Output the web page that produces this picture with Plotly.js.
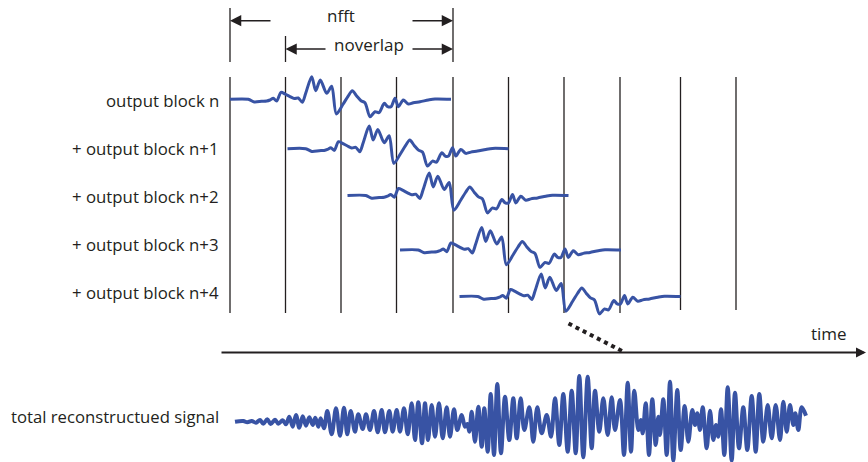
<!DOCTYPE html>
<html><head><meta charset="utf-8">
<script src="https://cdn.plot.ly/plotly-3.0.1.min.js"></script>
<style>html,body{margin:0;padding:0;background:#fff}</style>
</head><body><div id="chart" style="width:868px;height:462px"></div>
<script>
// ---- data (time axis units; vertical axis runs top->bottom) ----
const boundaries     = [230, 285.5, 341, 396.5, 453, 508.5, 564, 620, 680.5, 736];
const boundaryBottom = [313, 313, 313, 313, 313, 313, 313, 313, 310, 310];
const rowTop = 77;

const blockLabels = ['output block n', '+ output block n+1', '+ output block n+2',
                     '+ output block n+3', '+ output block n+4'];
const labelY     = [100, 148, 196, 244, 292];
const blockStart = [230, 287.5, 347.5, 400, 459.5];
const blockBase  = [99.3, 148.7, 195.5, 250, 296.5];

// one output block waveform: offset from block start, amplitude (up positive)
const blockDx  = [0, 18.3, 24.3, 31.7, 36.7, 40, 43.3, 46.7, 51, 55, 60, 64.3, 68.3, 72.3, 75.7,
                  81.7, 85.7, 90.3, 96.7, 101.7, 106.3, 113, 118, 122.3, 126.7, 131, 135, 140,
                  145, 149, 154.3, 157.7, 161, 165, 168.3, 173.3, 178.3, 183.3, 190, 198.3, 205, 221];
const blockAmp = [0, 0, -2.7, -2, -1.7, -0.7, 1, -1.7, 7, 5.3, 2.7, 0.7, 1.3, -3, 6,
                  22.6, 8.6, 19.3, 6, 13, -14.7, -5, 3, 8.6, 3.3, -1.4, -3.4, -17.4,
                  -12.4, -13.4, -4, -7.4, -7.4, 1, -7.4, -0.7, -4.7, -3.4, -2.4, -0.7, 0.3, 0];

// total reconstructed signal: extrema positions and amplitudes (up positive)
const sigBase = 421.7;
const sigX = [235, 243.3, 247.3, 251.7, 256, 260, 263.3, 267.3, 270.7, 275, 278.3, 282.7, 286, 289.3,
  292.7, 296, 299.3, 302.7, 306, 309.3, 312.7, 315.3, 318.3, 320.7, 324, 327.3, 331.7, 336, 340, 344,
  347.3, 350.7, 355, 358.3, 362.7, 366, 370, 374, 377.7, 381.7, 385, 389.3, 392.7, 396.7, 400, 404,
  407.7, 411.7, 415, 418.3, 422, 425, 428, 431.7, 435, 439, 442.7, 446.7, 450, 454, 457.3, 461.7, 465,
  467.3, 469.3, 471.7, 475, 478.3, 481.7, 484.3, 487.7, 490.7, 494, 497.3, 501, 505, 509.3, 513.3,
  516.7, 520.7, 524.3, 529.3, 533.3, 537.3, 541.7, 546.7, 551, 555, 559.3, 563.3, 567.7, 571.7, 575.7,
  579.3, 583.3, 587.7, 591.7, 595, 599.3, 603.3, 607.7, 611.7, 615, 620, 624, 627.7, 631, 634.3, 638.3,
  640.7, 642.7, 645.7, 649, 652.3, 655.7, 658.3, 660, 663.3, 666.7, 670, 673.3, 677.3, 680.7, 684.7,
  688.3, 692.3, 695, 697.3, 700, 702.7, 706.7, 710, 713.3, 716, 718.3, 721, 724.3, 727.7, 731.7, 735,
  739, 743.3, 747.3, 751.7, 755.7, 759.3, 763.3, 767.7, 771.7, 775.7, 780, 783.3, 786.7, 790, 793.3,
  795.3, 798.3, 801.7, 806];
const sigAmp = [0, 0.7, -0.6, 0.7, -1, 1.7, -2, 2.4, -2.3, 2, -2, 1.4, -2.6, 5,
  -5, 6.7, -6, 5.4, -4, 4.4, -3.3, 4, -5, 3.4, -6.6, 10.7, -12.6, 13.4, -14, 14,
  -12.6, 10.7, -10, 7.4, -7.3, 7.4, -8.3, 10.7, -10.6, 11.7, -10.6, 10.7, -10, 11.7, -10, 13.4,
  -12.6, 18.4, -18.3, 19.4, -21.6, 18.4, -18.3, 16.7, -15, 18.4, -16.6, 14.4, -15, 12.4, -8.3, 6.7, -5,
  -2.3, -10, 10, -20, 15, -25, 13.4, -30, 27.7, -33.3, 37.7, -31.6, 25, -18.3, 23.4,
  -16.6, 23.4, -8.3, 14.4, -20, 14.4, -11.6, 6.7, -15, 23.4, -23.3, 27.7, -30, 31, -31.6,
  45.7, -35.6, 45, -26.6, 31, -10, 23.4, -13.3, 24.4, -8.3, 21.7, -33.3, 39, -30, 31, -8.3,
  1.7, -11.6, 18.4, -33.3, 22.4, -23.3, 5, -13.3, 22.4, -33.3, 40, -39, 31.7, -28.3, 15.7,
  -20, 11.7, -3.3, 8.4, -8.3, 14.4, -26.6, 11, -18.3, -3.3, -15, 12.4, -33.3, 34.4, -39, 29,
  -26.6, 14.4, -28.3, 25.7, -30, 27.7, -20, 16.7, -16.6, 16.7, -18.3, 20, -10, 16.7, -3.3,
  8.4, -8.3, 14.4, 6];

// top dimension markers
const nfftRange = [230, 453];
const noverlapRange = [285.5, 453];
const markerTop = [8, 36, 8];
const markerX   = [230, 285.5, 453];
const markerBottom = 62;

const timeAxisY = 352.5;
const timeAxisX = [220, 866];
const dotted = {x: [568.5, 624], y: [323.5, 352]};

// ---- drawing ----
const INK = '#231f20';
const BLUE = '#3853a4';
const FONT = '"Open Sans", "Noto Sans", sans-serif';

const traces = [];
// frame boundary lines
const vx = [], vy = [];
boundaries.forEach((b, i) => { vx.push(b, b, null); vy.push(rowTop, boundaryBottom[i], null); });
markerX.forEach((b, i) => { vx.push(b, b, null); vy.push(markerTop[i], markerBottom, null); });
traces.push({x: vx, y: vy, mode: 'lines', line: {color: INK, width: 1.3}, hoverinfo: 'skip'});

// output blocks
blockStart.forEach((s, i) => {
  traces.push({
    x: blockDx.map(d => s + d),
    y: blockAmp.map(a => blockBase[i] - a),
    mode: 'lines', line: {color: BLUE, width: 3, shape: 'spline', smoothing: 0.8}, hoverinfo: 'skip'
  });
});

// reconstructed signal
traces.push({
  x: sigX, y: sigAmp.map(a => sigBase - a),
  mode: 'lines', line: {color: BLUE, width: 4, shape: 'spline', smoothing: 1}, hoverinfo: 'skip'
});

// dotted connector
traces.push({x: dotted.x, y: dotted.y, mode: 'lines',
  line: {color: INK, width: 4, dash: '4px,4px'}, hoverinfo: 'skip'});

const ann = [];
blockLabels.forEach((t, i) => ann.push({
  x: 221, y: labelY[i], xref: 'x', yref: 'y', text: t, showarrow: false,
  xanchor: 'right', yanchor: 'middle', font: {family: FONT, size: 16.8, color: INK}
}));
ann.push({x: 221, y: 416, xref: 'x', yref: 'y', text: 'total reconstructued signal', showarrow: false,
  xanchor: 'right', yanchor: 'middle', font: {family: FONT, size: 16.7, color: INK}});
ann.push({x: (nfftRange[0] + nfftRange[1]) / 2 - 0.5, y: 15.5, xref: 'x', yref: 'y', text: 'nfft', showarrow: false,
  xanchor: 'center', yanchor: 'middle', font: {family: FONT, size: 17, color: INK}});
ann.push({x: 369, y: 44, xref: 'x', yref: 'y', text: 'noverlap', showarrow: false,
  xanchor: 'center', yanchor: 'middle', font: {family: FONT, size: 17, color: INK}});
ann.push({x: 829, y: 333.5, xref: 'x', yref: 'y', text: 'time', showarrow: false,
  xanchor: 'center', yanchor: 'middle', font: {family: FONT, size: 17, color: INK}});

function arrow(x0, x1, y, w, sz) {
  return {x: x1, y: y, ax: x0, ay: y, xref: 'x', yref: 'y', axref: 'x', ayref: 'y',
    text: '', showarrow: true, arrowhead: 2, arrowwidth: w, arrowsize: sz, arrowcolor: INK, standoff: 0};
}
ann.push(arrow(272, nfftRange[0], 20.7, 1.5, 1.5));
ann.push(arrow(411, nfftRange[1], 20.7, 1.5, 1.5));
ann.push(arrow(327, noverlapRange[0], 49, 1.5, 1.5));
ann.push(arrow(411, noverlapRange[1], 49, 1.5, 1.5));
ann.push(arrow(timeAxisX[0], timeAxisX[1], timeAxisY, 2, 1));

const layout = {
  width: 868, height: 462, margin: {l: 0, r: 0, t: 0, b: 0},
  paper_bgcolor: '#fff', plot_bgcolor: '#fff', showlegend: false,
  xaxis: {range: [0, 868], visible: false, fixedrange: true},
  yaxis: {range: [462, 0], visible: false, fixedrange: true},
  annotations: ann
};
Plotly.newPlot('chart', traces, layout, {displayModeBar: false, staticPlot: true});
</script></body></html>
